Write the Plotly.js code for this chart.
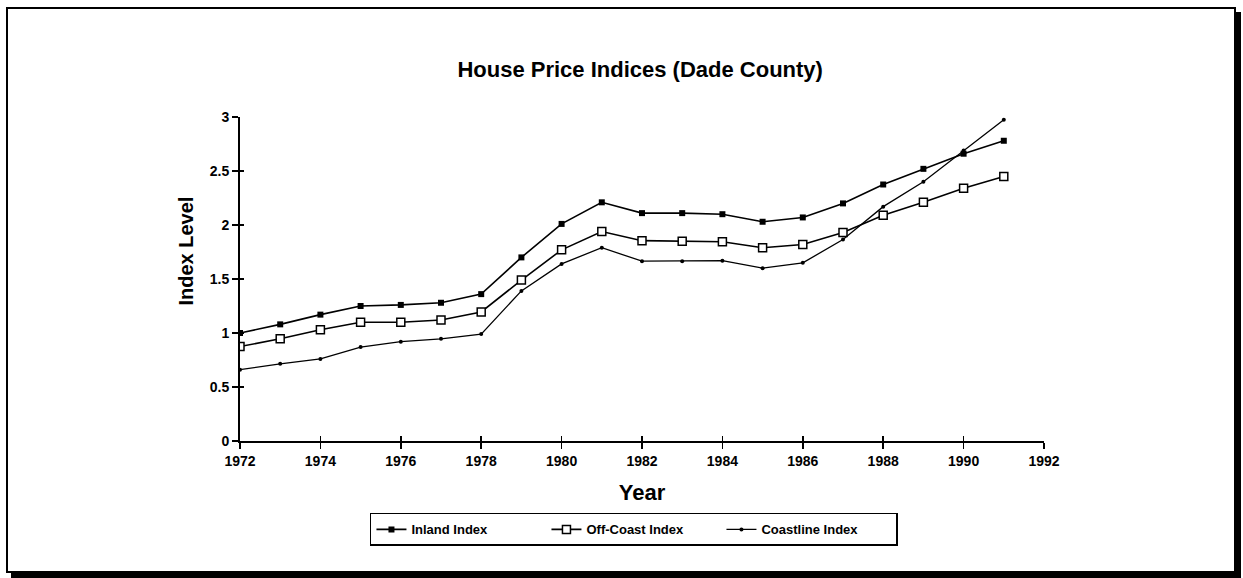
<!DOCTYPE html>
<html>
<head>
<meta charset="utf-8">
<script src="https://cdn.plot.ly/plotly-3.0.1.min.js"></script>
<style>
html,body{margin:0;padding:0;background:#fff;}
#wrap{position:relative;width:1243px;height:578px;overflow:hidden;}
#chart{width:1243px;height:578px;}
#frame{position:absolute;left:6px;top:7px;width:1226px;height:562px;border:2px solid #000;box-shadow:5px 5px 0 #000;pointer-events:none;}
</style>
</head>
<body>
<div id="wrap"><div id="chart"></div><div id="frame"></div></div>
<script>
const years = [1972,1973,1974,1975,1976,1977,1978,1979,1980,1981,1982,1983,1984,1985,1986,1987,1988,1989,1990,1991];
const inland = [1.00,1.08,1.17,1.25,1.26,1.28,1.36,1.70,2.01,2.21,2.11,2.11,2.10,2.03,2.07,2.20,2.375,2.52,2.66,2.78];
const offCoast = [0.875,0.946,1.03,1.10,1.10,1.12,1.195,1.49,1.77,1.94,1.855,1.85,1.845,1.79,1.82,1.93,2.09,2.21,2.34,2.45];
const coastline = [0.66,0.715,0.76,0.87,0.92,0.946,0.99,1.39,1.64,1.79,1.665,1.665,1.67,1.60,1.65,1.865,2.17,2.40,2.69,2.975];
const seriesNames = ['Inland Index','Off-Coast Index','Coastline Index'];

const font = 'Liberation Sans, Arial, sans-serif';
const traces = [
  {x: years, y: inland, name: seriesNames[0], mode: 'lines+markers',
   line: {color: '#000', width: 1.6},
   marker: {symbol: 'square', size: 6, color: '#000'}},
  {x: years, y: offCoast, name: seriesNames[1], mode: 'lines+markers',
   line: {color: '#000', width: 1.6},
   marker: {symbol: 'square', size: 8, color: '#fff', line: {color: '#000', width: 1.5}}},
  {x: years, y: coastline, name: seriesNames[2], mode: 'lines+markers',
   line: {color: '#000', width: 1.3},
   marker: {symbol: 'circle', size: 4, color: '#000'}}
];

const axisCommon = {showgrid: false, zeroline: false, showline: true, linecolor: '#000', linewidth: 2,
  tickcolor: '#000', tickwidth: 1.5, ticklen: 6,
  tickfont: {family: font, size: 14, color: '#000', weight: 'bold'}};

const layout = {
  width: 1243, height: 578,
  paper_bgcolor: '#fff', plot_bgcolor: '#fff',
  margin: {l: 240, r: 199, t: 117, b: 137},
  showlegend: true,
  title: {text: 'House Price Indices (Dade County)', x: 0.515, xanchor: 'center', y: 0.88, yanchor: 'middle',
    font: {family: font, size: 22, color: '#000', weight: 'bold'}},
  xaxis: Object.assign({}, axisCommon, {range: [1972, 1992], dtick: 2, tick0: 1972, ticks: 'outside',
    title: {text: 'Year', standoff: 17, font: {family: font, size: 22, color: '#000', weight: 'bold'}}}),
  yaxis: Object.assign({}, axisCommon, {range: [0, 3], dtick: 0.5, ticks: 'outside'}),
  xaxis2: {overlaying: 'x', anchor: 'y', range: [1972, 1992], dtick: 2, tick0: 1972, ticks: 'inside', ticklen: 5,
    tickwidth: 1.5, tickcolor: '#000', showticklabels: false, showgrid: false, zeroline: false, showline: false, side: 'bottom'},
  yaxis2: {overlaying: 'y', anchor: 'x', range: [0, 3], dtick: 0.5, ticks: 'inside', ticklen: 4,
    tickwidth: 1.5, tickcolor: '#000', showticklabels: false, showgrid: false, zeroline: false, showline: false, side: 'left'},
  annotations: [{text: 'Index Level', xref: 'paper', yref: 'paper', x: -0.067, y: 0.585, xanchor: 'center', yanchor: 'middle',
    textangle: -90, showarrow: false, font: {family: font, size: 20, color: '#000', weight: 'bold'}}],
  legend: {orientation: 'h', x: 0.49, xanchor: 'center', y: -0.222, yanchor: 'top',
    entrywidth: 130, entrywidthmode: 'pixels',
    bordercolor: '#000', borderwidth: 1.5, bgcolor: '#fff',
    font: {family: font, size: 13, color: '#000', weight: 'bold'}}
};

const dummyX = {x: [years[0]], y: [inland[0]], xaxis: 'x2', yaxis: 'y2', mode: 'markers',
  marker: {opacity: 0}, showlegend: false, hoverinfo: 'skip'};

Plotly.newPlot('chart', traces.concat([dummyX]), layout, {staticPlot: true});
</script>
</body>
</html>
